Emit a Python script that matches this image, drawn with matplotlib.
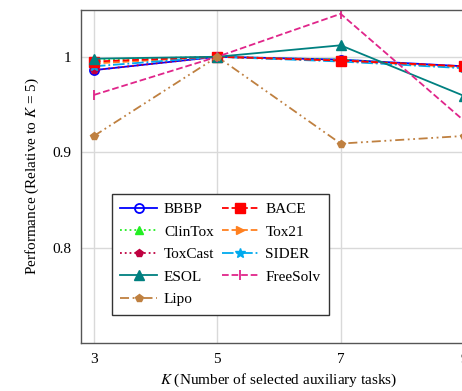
import matplotlib
matplotlib.use("Agg")
import matplotlib.pyplot as plt

plt.rcParams['font.family'] = ['Liberation Serif', 'DejaVu Serif']
plt.rcParams['mathtext.fontset'] = 'stix'

k = [3, 5, 7, 9]
bbbp = [0.986, 1.0, 0.997, 0.990]
bace = [0.995, 1.0, 0.996, 0.990]
clintox = [0.997, 1.0, 0.997, 0.989]
tox21 = [0.993, 1.0, 0.996, 0.989]
toxcast = [0.986, 1.0, 0.996, 0.989]
sider = [0.990, 1.0, 0.995, 0.988]
esol = [0.998, 1.0, 1.012, 0.959]
freesolv = [0.960, 1.0, 1.045, 0.933]
lipo = [0.917, 1.0, 0.909, 0.917]

fig = plt.figure(figsize=(4.62, 3.91), dpi=100)
ax = fig.add_axes([0.1753, 0.1228, 0.857, 0.8516])

h_bbbp, = ax.plot(k, bbbp, color='blue', ls='-', lw=1.3, marker='o', ms=6.5, mfc='none', mew=1.3, label='BBBP')
h_clintox, = ax.plot(k, clintox, color='#22ee22', ls=':', lw=1.3, marker='^', ms=5.5, label='ClinTox')
h_toxcast, = ax.plot(k, toxcast, color='#bf0040', ls=':', lw=1.3, marker='p', ms=6, label='ToxCast')
h_tox21, = ax.plot(k, tox21, color='#ff8020', ls='--', lw=1.3, marker='>', ms=5.5, label='Tox21')
h_sider, = ax.plot(k, sider, color='#00aaee', ls='-.', lw=1.3, marker='*', ms=7.5, label='SIDER')
h_bace, = ax.plot(k, bace, color='red', ls='--', lw=1.3, marker='s', ms=6.5, label='BACE')
h_esol, = ax.plot(k, esol, color='#008080', ls='-', lw=1.3, marker='^', ms=6.5, label='ESOL')
h_freesolv, = ax.plot(k, freesolv, color='#e0258a', ls='--', lw=1.3, marker='|', ms=7, mew=1.3, label='FreeSolv')
h_lipo, = ax.plot(k, lipo, color='#bf8040', ls=(0, (5, 2, 1, 2, 1, 2)), lw=1.3, marker='p', ms=6, label='Lipo')

ax.set_xlim(2.79, 9.21)
ax.set_ylim(0.70, 1.049)
ax.set_xticks([3, 5, 7, 9])
ax.set_yticks([0.8, 0.9, 1.0])
ax.set_yticklabels(['0.8', '0.9', '1'])
ax.tick_params(length=0, labelsize=11, pad=7)
ax.grid(color='#d9d9d9', lw=1)
ax.set_axisbelow(True)
for s in ax.spines.values():
    s.set_color('#555555')
    s.set_linewidth(1)

ax.set_xlabel('$K$ (Number of selected auxiliary tasks)', fontsize=11, labelpad=4)
ax.set_ylabel('Performance (Relative to $K$ = 5)', fontsize=11, labelpad=8)

handles = [h_bbbp, h_clintox, h_toxcast, h_esol, h_lipo, h_bace, h_tox21, h_sider, h_freesolv]
fig.legend(handles=handles, ncol=2, loc='upper left', bbox_to_anchor=(112 / 462, 1 - 194 / 391),
           borderaxespad=0, fontsize=11, frameon=True, fancybox=False, edgecolor='#333333',
           framealpha=1, handlelength=2.4, handletextpad=0.45, columnspacing=0.5,
           labelspacing=0.58, borderpad=0.55)

plt.savefig('out.png', dpi=100)
